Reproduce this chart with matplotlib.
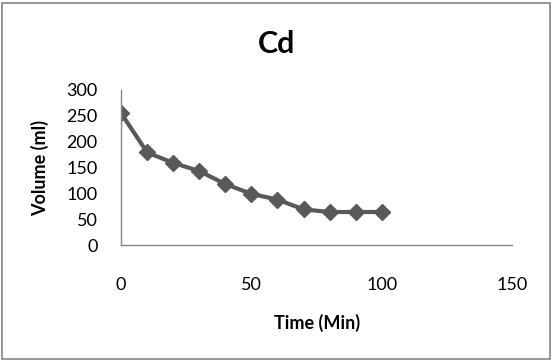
import matplotlib
matplotlib.use("Agg")
import matplotlib.pyplot as plt
from matplotlib.patches import Rectangle

# data
time_min = [0, 10, 20, 30, 40, 50, 60, 70, 80, 90, 100]
volume_ml = [255, 179, 159, 143, 118, 99, 88, 69, 64, 64, 64]
x_ticks = [0, 50, 100, 150]
y_ticks = [0, 50, 100, 150, 200, 250, 300]

plt.rcParams['font.family'] = ['Lato', 'DejaVu Sans']

fig = plt.figure(figsize=(5.53, 3.61), dpi=100)
ax = fig.add_axes([0.219, 0.321, 0.707, 0.430])

ax.plot(time_min, volume_ml, color='#595959', lw=3, marker='D', ms=8,
        markerfacecolor='#595959', markeredgecolor='#595959', solid_joinstyle='round')

ax.set_xlim(0, 150)
ax.set_ylim(0, 300)
ax.set_xticks(x_ticks)
ax.set_yticks(y_ticks)
ax.tick_params(length=0, labelsize=13)
ax.tick_params(axis='x', pad=23)
ax.tick_params(axis='y', pad=17)
for lab in ax.get_xticklabels() + ax.get_yticklabels():
    lab.set_color('black')

for s in ['top', 'right']:
    ax.spines[s].set_visible(False)
for s in ['left', 'bottom']:
    ax.spines[s].set_color('#868686')
    ax.spines[s].set_linewidth(1)

ax.set_xlabel('Time (Min)', fontsize=13, fontweight='bold', labelpad=15)
ax.set_ylabel('Volume (ml)', fontsize=13, fontweight='bold', labelpad=12)
fig.text(0.5, 0.877, 'Cd', ha='center', va='center', fontsize=22, fontweight='bold')

# outer chart border
fig.patches.append(Rectangle((0.004, 0.006), 0.991, 0.986, transform=fig.transFigure,
                             fill=False, edgecolor='#868686', lw=1.2))

fig.savefig('out.png', dpi=100)
